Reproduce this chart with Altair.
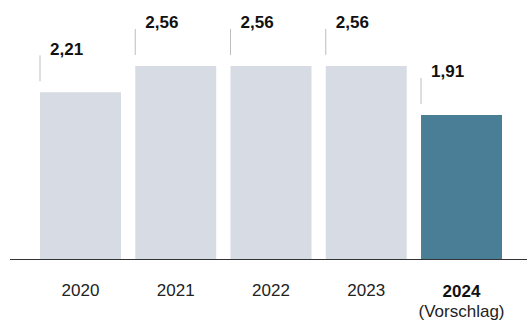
import altair as alt
import pandas as pd

years = ["2020", "2021", "2022", "2023", "2024"]
values = [2.21, 2.56, 2.56, 2.56, 1.91]
highlight = [False, False, False, False, True]
notes = ["", "", "", "", "(Vorschlag)"]

df = pd.DataFrame({
    "year": years,
    "value": values,
    "hl": highlight,
    "note": notes,
    "label": [f"{v:.2f}".replace(".", ",") for v in values],
})

FONT = "Liberation Sans"
xs = alt.Scale(domain=years, range=[40, 502], paddingInner=0.15, paddingOuter=0)
ys = alt.Scale(domain=[0, 3.435], nice=False, zero=True)

base = alt.Chart(df)

bars = base.mark_bar().encode(
    x=alt.X("year:N", scale=xs, axis=None),
    y=alt.Y("value:Q", scale=ys, axis=None),
    color=alt.Color("hl:N", scale=alt.Scale(domain=[False, True], range=["#d6dbe4", "#4a7e97"]), legend=None),
)

ticks = base.mark_rule(color="#bdbdbd", strokeWidth=1, yOffset=-11, y2Offset=-37).encode(
    x=alt.X("year:N", scale=xs, bandPosition=0),
    y=alt.Y("value:Q", scale=ys),
    y2="value:Q",
)

vlabels = base.mark_text(align="left", baseline="alphabetic", dx=10, dy=-37.5,
                         fontWeight="bold", fontSize=17, font=FONT, color="#111").encode(
    x=alt.X("year:N", scale=xs, bandPosition=0),
    y=alt.Y("value:Q", scale=ys),
    text="label:N",
)

xlabels_n = base.transform_filter("!datum.hl").mark_text(
    align="center", baseline="alphabetic", fontSize=17, font=FONT, color="#222").encode(
    x=alt.X("year:N", scale=xs),
    y=alt.value(296),
    text="year:N",
)

xlabels_b = base.transform_filter("datum.hl").mark_text(
    align="center", baseline="alphabetic", fontSize=17, font=FONT, fontWeight="bold", color="#111").encode(
    x=alt.X("year:N", scale=xs),
    y=alt.value(296.5),
    text="year:N",
)

notelabels = base.mark_text(align="center", baseline="alphabetic", fontSize=17, font=FONT, color="#222").encode(
    x=alt.X("year:N", scale=xs),
    y=alt.value(317),
    text="note:N",
)

axisline = alt.Chart(pd.DataFrame({"a": [0]})).mark_rule(color="#333", strokeWidth=1.2).encode(
    x=alt.value(10), x2=alt.value(527), y=alt.value(259.5)
)

chart = alt.layer(bars, ticks, vlabels, axisline, xlabels_n, xlabels_b, notelabels).properties(
    width=527, height=259,
    autosize=alt.AutoSizeParams(type="none"),
    padding={"left": 0, "top": 0, "right": 0, "bottom": 65},
).configure_view(stroke=None)

chart.save("out.html", embed_options={"renderer": "svg", "actions": False})
